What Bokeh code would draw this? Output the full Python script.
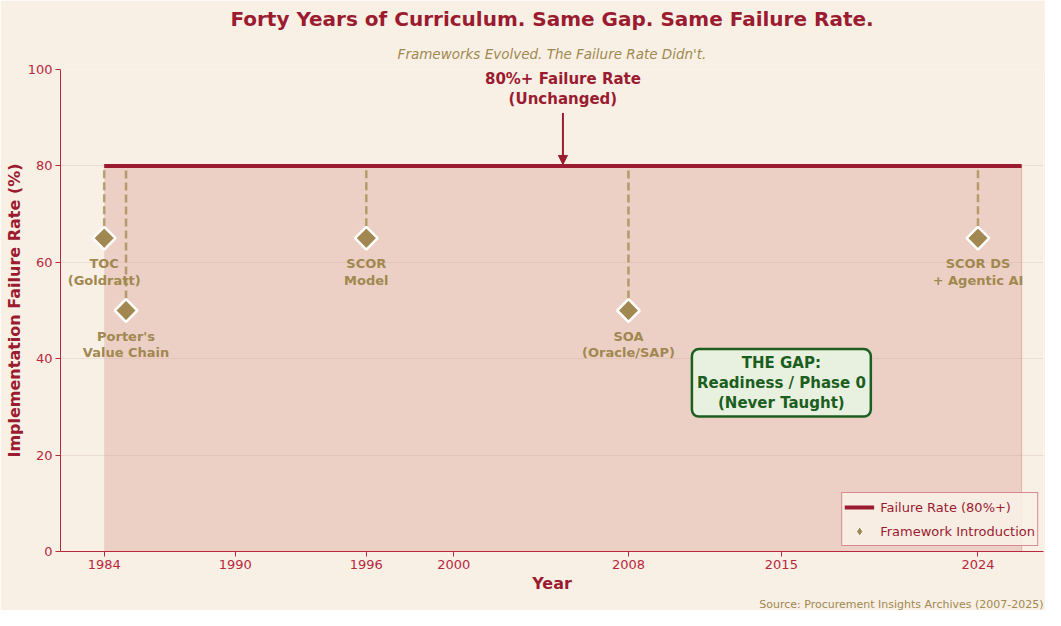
import math
from bokeh.plotting import figure
from bokeh.models import (Range1d, ColumnDataSource, Title, Label, Arrow, NormalHead,
                          Legend, LegendItem, FixedTicker)
from bokeh.core.properties import value
from bokeh.embed import file_html
from bokeh.resources import INLINE

# ---- data ----
fw_years = [1984, 1985, 1996, 2008, 2024]
fw_rates = [65, 50, 65, 50, 65]
fw_labels = ["TOC\n(Goldratt)", "Porter's\nValue Chain", "SCOR\nModel", "SOA\n(Oracle/SAP)", "SCOR DS\n+ Agentic AI"]
fail_years = [1984, 2026]
fail_rate = [80, 80]
x_ticks = [1984, 1990, 1996, 2000, 2008, 2015, 2024]
y_ticks = [0, 20, 40, 60, 80, 100]
arrow_year = 2005
gap_year, gap_rate = 2015, 35

RED = "#9b1b30"
AXRED = "#b8283c"
GOLD = "#a08850"
GREEN = "#1b5e20"
BG = "#f8f0e5"
FONT = "DejaVu Sans"

p = figure(width=1045, height=610, output_backend="svg", toolbar_location=None,
           x_range=Range1d(1982, 2027), y_range=Range1d(0, 100),
           background_fill_color=BG, border_fill_color=BG,
           min_border_left=60, min_border_right=2, min_border_top=69, min_border_bottom=0)
p.outline_line_color = None

# titles
sub = Title(text="Frameworks Evolved. The Failure Rate Didn't.", align="center",
            text_font=FONT, text_font_size="13.5px", text_font_style="italic",
            text_color=GOLD, standoff=16)
p.add_layout(sub, "above")
main = Title(text="Forty Years of Curriculum. Same Gap. Same Failure Rate.", align="center",
             text_font=FONT, text_font_size="20px", text_font_style="bold",
             text_color=RED, standoff=9)
p.add_layout(main, "above")
src = Title(text="Source: Procurement Insights Archives (2007-2025)", align="right",
            text_font=FONT, text_font_size="11px", text_font_style="normal",
            text_color=GOLD, standoff=0)
p.add_layout(src, "below")

# fill area under failure line
fsrc = ColumnDataSource(dict(x=fail_years, y=fail_rate, y0=[0, 0]))
p.varea(x="x", y1="y0", y2="y", source=fsrc, fill_color="#d9958a", fill_alpha=0.35)
p.segment(x0=fail_years[1], y0=0, x1=fail_years[1], y1=fail_rate[1],
          line_color="#d9958a", line_alpha=0.6, line_width=1)

# dashed stems
p.segment(x0=fw_years, y0=fw_rates, x1=fw_years, y1=[fail_rate[0]] * len(fw_years),
          line_color=GOLD, line_alpha=0.75, line_width=2.5, line_dash="8 4")

# failure line
fl = p.line(x="x", y="y", source=fsrc, line_color=RED, line_width=4)

msrc = ColumnDataSource(dict(x=fw_years, y=fw_rates, label=fw_labels))
# legend proxy diamond (hidden beneath the visible markers)
mk = p.scatter(x="x", y="y", source=msrc, marker="diamond", size=16,
               fill_color=GOLD, line_color="white", line_width=1)
# markers (diamond = rotated square)
p.scatter(x="x", y="y", source=msrc, marker="square", size=16, angle=math.pi / 4,
          fill_color=GOLD, line_color="white", line_width=2.5)
p.text(x="x", y="y", text="label", source=msrc, text_align="center", text_baseline="top",
       y_offset=18, text_font=value(FONT), text_font_size="13px", text_font_style="bold",
       text_color=GOLD, text_line_height=1.1)

# arrow annotation
p.add_layout(Arrow(end=NormalHead(size=9, fill_color=RED, line_color=RED),
                   x_start=arrow_year, y_start=91, x_end=arrow_year, y_end=80.3,
                   line_color=RED, line_width=2))
p.add_layout(Label(x=arrow_year, y=92, text="80%+ Failure Rate\n(Unchanged)",
                   text_align="center", text_baseline="bottom",
                   text_font=FONT, text_font_size="15px", text_font_style="bold",
                   text_color=RED, text_line_height=1.1))

# gap box
p.add_layout(Label(x=gap_year, y=gap_rate, text="THE GAP:\nReadiness / Phase 0\n(Never Taught)",
                   text_align="center", text_baseline="middle",
                   text_font=FONT, text_font_size="15px", text_font_style="bold",
                   text_color=GREEN, text_line_height=1.1,
                   background_fill_color="#e8f0e0", background_fill_alpha=1,
                   border_line_color=GREEN, border_line_width=2.5,
                   padding=5, border_radius=7))

# axes
for ax in (p.xaxis[0], p.yaxis[0]):
    ax.axis_line_color = AXRED
    ax.major_tick_line_color = AXRED
    ax.minor_tick_line_color = None
    ax.major_tick_out = 5
    ax.major_tick_in = 0
    ax.major_label_text_color = AXRED
    ax.major_label_text_font = FONT
    ax.major_label_text_font_size = "13px"
    ax.major_label_standoff = 3
    ax.axis_label_text_color = RED
    ax.axis_label_text_font = FONT
    ax.axis_label_text_font_size = "16px"
    ax.axis_label_text_font_style = "bold"
p.xaxis.ticker = FixedTicker(ticks=x_ticks)
p.yaxis.ticker = FixedTicker(ticks=y_ticks)
p.xaxis.axis_label = "Year"
p.yaxis.axis_label = "Implementation Failure Rate (%)"
p.xaxis.axis_label_standoff = 2
p.yaxis.axis_label_standoff = 1

p.xgrid.grid_line_color = None
p.ygrid.grid_line_color = "#e8d8cc"
p.ygrid.grid_line_alpha = 0.8

legend = Legend(items=[LegendItem(label="Failure Rate (80%+)", renderers=[fl]),
                       LegendItem(label="Framework Introduction", renderers=[mk])],
                location="bottom_right", label_text_font=FONT, label_text_font_size="13px",
                label_text_color=RED, border_line_color=AXRED, border_line_width=1.2,
                background_fill_color=BG, background_fill_alpha=0.9,
                glyph_height=24, glyph_width=30, label_height=16, spacing=0,
                padding=2, margin=5, label_standoff=6)
p.add_layout(legend)

open("out.html", "w").write(file_html(p, INLINE))
